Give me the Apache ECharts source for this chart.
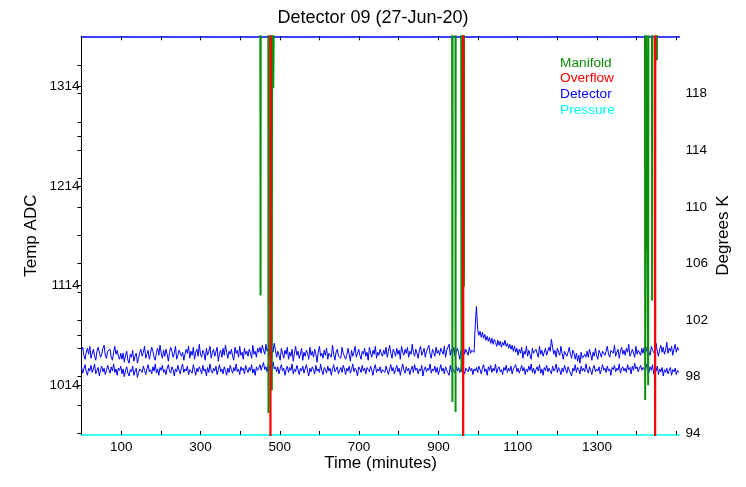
<!DOCTYPE html>
<html><head><meta charset="utf-8">
<script src="https://cdn.jsdelivr.net/npm/echarts@6/dist/echarts.min.js"></script>
<style>html,body{margin:0;padding:0;background:#fff}#c{width:746px;height:487px}</style>
</head><body><div id="c"></div>
<script>
const titleText = 'Detector 09 (27-Jun-20)';
const xTicks = [100,200,300,400,500,600,700,800,900,1000,1100,1200,1300,1400,1500];
const xLabels = [100,300,500,700,900,1100,1300];
const adcTicks = [1014,1064,1114,1164,1214,1264,1314];
const adcLabels = [1014,1114,1214,1314];
const kTicks = [94,96,98,100,102,104,106,108,110,112,114,116,118,120];
const kLabels = [94,98,102,106,110,114,118];
const legendNames = ['Manifold','Overflow','Detector','Pressure'];

// Detector samples every 3 minutes starting at t = 0
const sampleMinutes = 3;
const detectorADC = [
1049,1052,1044,1040,1047,1051,1045,1053,1041,1046,1050,1043,1039,1048,1052,1047,1042,1045,1051,1054,1044,1041,1048,1046,1050,1042,1039,1047,1053,1045,1049,1043,1040,1046,
1040,1046,1037,1044,1048,1039,1036,1045,1042,1049,1038,1043,1046,1036,1041,1047,
1050,1043,1047,1053,1041,1045,1049,1040,1046,1052,
1048,1042,1039,1047,1051,1044,1054,1046,1041,1049,
1043,1050,1045,1038,1047,1052,1048,1042,1046,1053,
1040,1044,1049,1051,1043,1047,1039,1045,1050,1046,
1053,1041,1048,1044,1052,1040,1047,1050,1043,1055,
1045,1042,1049,1046,1039,1051,1044,1048,1053,1041,
1047,1050,1043,1045,1052,1038,1046,1049,1042,1051,
1044,1054,1047,1041,1048,1045,1050,1043,1039,1052,
1046,1049,1042,1053,1044,1047,1040,1051,1045,1048,
1043,1050,1046,1041,1054,1045,1048,1042,1051,1047,
1052,1046,1054,1049,1045,1055,1048,1051,1044,1053,1050,1047,1056,1049,
1042,1048,1044,1039,1051,1046,1041,1049,1045,1052,
1040,1047,1043,1050,1038,1046,1053,1044,1048,1041,
1045,1051,1039,1047,1043,1049,1046,1040,1052,1044,
1048,1042,1050,1045,1037,1047,1053,1043,1046,1041,
1049,1044,1051,1040,1046,1048,1042,1054,1045,1039,
1047,1050,1043,1045,1041,1052,1046,1048,1040,1044,
1051,1045,1038,1049,1043,1047,1053,1042,1046,1050,
1044,1040,1048,1045,1051,1043,1047,1039,1052,1046,
1042,1049,1045,1053,1041,1047,1044,1050,1046,1043,
1049,1045,1052,1042,1048,1054,1046,1041,1050,1047,
1043,1051,1045,1049,1040,1053,1047,1044,1050,1046,
1052,1042,1048,1045,1055,1047,1043,1050,1046,1041,
1049,1053,1044,1047,1051,1042,1048,1046,1054,1045,
1041,1050,1047,1043,1052,1046,1049,1044,1051,1048,
1045,1053,1042,1049,1047,1055,1044,1050,1046,1052,
1043,1048,1051,1046,1040,1049,1047,1053,1045,1050,
1048,1044,1052,1046,1049,1051,1047,
1075,1093,
1070,1064,1068,1062,1067,1061,1065,1059,1063,1058,
1062,1056,1061,1055,1060,1057,1053,1059,1054,1058,
1052,1057,1054,1059,1053,1056,1051,1055,1050,1054,
1048,1053,1047,1051,
1044,1050,1046,1052,1041,1048,1045,1053,1043,1049,
1047,1040,1051,1046,1044,1050,1048,1042,1053,1045,
1049,1043,1047,1051,1044,1046,1052,1048,
1060,1052,
1045,1049,1042,1051,1047,1044,1053,1046,1040,1048,1050,1043,1047,1052,1045,1041,1049,1046,
1040,1046,1038,1044,1036,1047,1041,1039,1045,1042,
1048,1042,1050,1045,1039,1047,1043,1051,1044,1040,1049,1046,1042,1048,
1050,1044,1048,1053,1045,1042,1049,1051,1046,1054,
1043,1047,1050,1041,1048,1052,1045,1049,1044,1051,
1047,1055,1043,1046,1050,1048,1042,1053,1045,1049,
1047,1044,1051,1046,
1052,1046,1050,1055,1047,1044,1053,1049,1051,1045,
1056,1048,1043,1050,1054,1047,1052,1045,1049,1057,
1046,1051,1048,1053,1044,1050,1055,1047,1052,1049
];
const detectorK = [
98.7,98.25,98.55,98.85,98.35,98.1,98.6,98.4,98.8,98.3,
98.55,98.9,98.2,98.45,98.65,98.05,98.5,98.75,98.35,98.6,
98.15,98.45,98.8,98.5,98.25,98.7,98.4,98.9,98.3,98.55,
98.1,98.6,98.45,98.75,
98.2,98.55,98.0,98.45,98.7,98.25,98.05,98.5,98.35,98.75,98.1,98.4,98.6,97.95,98.3,98.55,
98.6,98.3,98.75,98.45,98.15,98.55,98.85,98.35,98.5,98.2,
98.7,98.4,98.9,98.25,98.55,98.1,98.65,98.45,98.8,98.3,
98.5,98.15,98.6,98.85,98.4,98.25,98.7,98.5,98.05,98.55,
98.35,98.8,98.45,98.2,98.65,98.9,98.3,98.55,98.4,98.75,
98.15,98.5,98.6,98.25,98.85,98.45,98.1,98.6,98.35,98.7,
98.5,98.2,98.8,98.4,98.55,98.05,98.65,98.3,98.9,98.45,
98.25,98.6,98.4,98.75,98.15,98.5,98.85,98.35,98.55,98.2,
98.7,98.45,98.1,98.6,98.3,98.8,98.5,98.25,98.65,98.4,
98.9,98.35,98.55,98.15,98.7,98.45,98.6,98.2,98.8,98.5,
98.3,98.65,98.4,98.85,98.25,98.55,98.1,98.7,98.45,98.6,
98.85,98.45,98.75,99.0,98.5,98.7,98.35,98.9,98.6,98.8,98.45,99.05,98.55,98.7,
98.35,98.7,98.2,98.55,98.85,98.4,98.6,98.1,98.5,98.75,
98.3,98.65,98.45,98.9,98.2,98.55,98.35,98.8,98.5,98.15,
98.6,98.4,98.75,98.25,98.55,98.85,98.45,98.05,98.6,98.35,
98.7,98.5,98.2,98.8,98.4,98.55,98.3,98.9,98.45,98.15,
98.65,98.5,98.25,98.75,98.4,98.6,98.1,98.55,98.85,98.35,
98.5,98.7,98.2,98.45,98.65,98.3,98.8,98.55,98.15,98.6,
98.4,98.75,98.25,98.5,98.9,98.35,98.6,98.45,98.05,98.7,
98.55,98.3,98.8,98.4,98.6,98.2,98.65,98.5,98.35,98.75,
98.45,98.1,98.6,98.85,98.3,98.55,98.4,98.7,98.25,98.5,
98.6,98.3,98.75,98.45,98.15,98.55,98.85,98.4,98.65,98.2,
98.5,98.8,98.35,98.6,98.1,98.55,98.9,98.45,98.25,98.7,
98.4,98.6,98.15,98.5,98.75,98.3,98.85,98.45,98.6,98.2,
98.55,98.4,98.8,98.05,98.5,98.7,98.35,98.6,98.45,98.9,
98.25,98.55,98.4,98.75,98.3,98.65,98.15,98.5,98.85,98.4,
98.6,98.2,98.7,98.45,98.55,98.1,98.8,98.35,98.6,98.5,
98.25,98.75,98.4,98.65,98.3,98.55,98.85,98.45,98.2,98.6,
98.5,98.35,98.7,98.4,98.6,98.15,98.55,
98.4,98.65,98.3,98.75,98.5,98.2,98.6,98.85,98.35,98.55,
98.1,98.7,98.45,98.8,98.3,98.6,98.4,98.9,98.25,98.55,
98.7,98.35,98.5,98.15,98.65,98.45,98.8,98.3,98.6,98.4,
98.75,98.2,98.55,98.45,98.85,98.35,
98.6,98.25,98.5,98.8,98.4,98.65,98.15,98.55,98.35,98.75,
98.45,98.9,98.3,98.6,98.2,98.5,98.7,98.4,98.85,98.25,
98.55,98.1,98.65,98.45,98.8,98.35,98.6,98.5,98.2,98.75,
98.4,98.55,98.9,98.3,98.65,98.45,98.15,98.6,98.35,98.8,
98.5,98.25,98.7,98.45,98.55,98.05,98.6,98.4,98.85,98.3,
98.65,98.5,98.2,98.75,98.4,98.6,98.35,98.9,98.5,98.25,
98.7,98.45,98.15,98.6,98.8,98.35,98.55,98.4,98.7,98.2,
98.5,98.85,98.45,98.6,98.3,98.75,98.4,98.55,98.1,98.65,
98.5,98.8,98.35,98.6,98.45,98.9,98.25,98.55,98.7,98.4,
98.6,98.3,98.85,98.5,98.65,98.2,98.75,98.45,98.95,98.55,
98.7,98.35,98.6,98.8,98.45,98.65,
98.75,98.4,98.9,98.55,98.3,98.7,98.45,98.85,98.2,98.6,
98.4,98.75,98.15,98.55,98.35,98.65,98.05,98.5,98.3,98.6,
98.2,98.45,98.65,98.1,98.5,98.35,98.6,98.15,98.45,98.3
];
// Manifold and Overflow: [minutes, ADC] (normally off-scale high)
const manifold = [
[0,1400],
[451,1400],[451.5,1104],[452,1400],
[471,1400],[471.5,986],[472,1400],
[479.5,1400],[480,1009],[480.5,1400],
[483,1400],[483.5,1312],[485,1312],[485.5,1400],
[934.5,1400],[935,1121],[935.3,997],[935.7,1400],
[943,1400],[943.3,987],[943.6,1400],
[957.5,1400],[958,1134],[958.3,1027],[958.6,1400],
[963.8,1400],[964,1285],[964.3,1113],[964.6,1400],
[1421,1400],[1421.5,999],[1422,1400],
[1422.5,1400],[1423,1150],[1423.5,1400],
[1428.5,1400],[1429,1014],[1429.5,1400],
[1438.5,1400],[1439,1099],[1439.5,1400],
[1450.5,1400],[1451,1340],[1451.5,1400],
[1508,1400]
];
const overflow = [
[0,1400],
[476,1400],[476.5,900],[477,1400],
[962,1400],[962.5,900],[963,1400],
[1446,1400],[1446.5,900],[1447,1400],
[1508,1400]
];
const pressure = [];

const FONT = 'Liberation Sans, Arial, sans-serif';
const GREEN = '#0a8f0a', RED = '#ff0000', BLUE = '#0000ff', CYAN = '#00ffff';
const adcPairs = detectorADC.map((v, i) => [i * sampleMinutes, v]);
const kPairs = detectorK.map((v, i) => [i * sampleMinutes, v]);
const legendColors = {Manifold: GREEN, Overflow: RED, Detector: BLUE, Pressure: CYAN};
const plain = v => String(v);

const chart = echarts.init(document.getElementById('c'), null, {renderer: 'canvas'});
chart.setOption({
  animation: false,
  backgroundColor: '#fff',
  textStyle: {fontFamily: FONT},
  title: {text: titleText, left: 'center', top: 9, padding: 0,
    textStyle: {fontFamily: FONT, fontSize: 18, fontWeight: 'normal', color: '#000'}},
  legend: {
    orient: 'vertical', left: 550, top: 51, icon: 'none', itemWidth: 0, itemHeight: 14, itemGap: 1.7,
    selectedMode: false,
    data: legendNames.map(n => ({name: n, textStyle: {color: legendColors[n]}})),
    textStyle: {fontFamily: FONT, fontSize: 13.7}
  },
  grid: {left: 81.5, right: 66.5, top: 36.3, bottom: 52, containLabel: false},
  xAxis: [
    {type: 'value', position: 'bottom', min: 0, max: 1508,
     name: 'Time (minutes)', nameLocation: 'middle', nameGap: 20, nameMoveOverlap: false,
     nameTextStyle: {fontFamily: FONT, fontSize: 17, color: '#000'},
     axisLine: {show: true, lineStyle: {color: CYAN, width: 1.5}},
     axisTick: {show: true, inside: true, length: 4, customValues: xTicks, lineStyle: {color: '#000'}},
     axisLabel: {customValues: xLabels, formatter: plain, margin: 5, fontFamily: FONT, fontSize: 13.5, color: '#000'},
     splitLine: {show: false}},
    {type: 'value', position: 'top', min: 0, max: 1508,
     axisLine: {show: true, lineStyle: {color: BLUE, width: 1.5}},
     axisTick: {show: true, inside: true, length: 4, customValues: xTicks, lineStyle: {color: '#000'}},
     axisLabel: {show: false}, splitLine: {show: false}}
  ],
  yAxis: [
    {type: 'value', position: 'left', min: 964, max: 1364,
     name: 'Temp ADC', nameLocation: 'middle', nameGap: 42, nameRotate: 90, nameMoveOverlap: false,
     nameTextStyle: {fontFamily: FONT, fontSize: 17, color: '#000'},
     axisLine: {show: true, lineStyle: {color: '#000', width: 1}},
     axisTick: {show: true, inside: false, length: 4, customValues: adcTicks, lineStyle: {color: '#000'}},
     axisLabel: {customValues: adcLabels, formatter: plain, margin: 2, fontFamily: FONT, fontSize: 13.5, color: '#000'},
     splitLine: {show: false}},
    {type: 'value', position: 'right', min: 93.88, max: 122.06,
     name: 'Degrees K', nameLocation: 'middle', nameGap: 35.5, nameRotate: 90, nameMoveOverlap: false,
     nameTextStyle: {fontFamily: FONT, fontSize: 17, color: '#000'},
     axisLine: {show: true, lineStyle: {color: '#000', width: 1}},
     axisTick: {show: true, inside: true, length: 4, customValues: kTicks, lineStyle: {color: '#000'}},
     axisLabel: {customValues: kLabels, formatter: plain, margin: 6, fontFamily: FONT, fontSize: 13.5, color: '#000'},
     splitLine: {show: false}}
  ],
  series: [
    {name: 'Detector', type: 'line', xAxisIndex: 0, yAxisIndex: 0, data: adcPairs, showSymbol: false,
     color: BLUE, lineStyle: {color: BLUE, width: 1}, z: 2},
    {name: 'Detector', type: 'line', xAxisIndex: 0, yAxisIndex: 1, data: kPairs, showSymbol: false,
     color: BLUE, lineStyle: {color: BLUE, width: 1}, z: 2},
    {name: 'Manifold', type: 'line', xAxisIndex: 0, yAxisIndex: 0, data: manifold, showSymbol: false,
     color: GREEN, lineStyle: {color: GREEN, width: 2}, z: 3},
    {name: 'Overflow', type: 'line', xAxisIndex: 0, yAxisIndex: 0, data: overflow, showSymbol: false,
     color: RED, lineStyle: {color: RED, width: 2.2}, z: 4},
    {name: 'Pressure', type: 'line', xAxisIndex: 0, yAxisIndex: 0, data: pressure, showSymbol: false,
     color: CYAN, lineStyle: {color: CYAN, width: 1}, z: 1}
  ]
});
</script></body></html>
